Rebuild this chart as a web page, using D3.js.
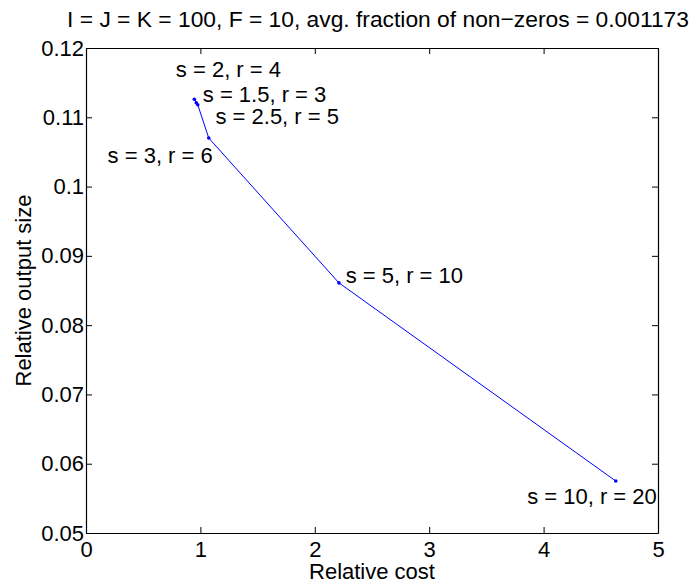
<!DOCTYPE html>
<html>
<head>
<meta charset="utf-8">
<script src="https://cdn.jsdelivr.net/npm/d3@7"></script>
<style>
  body { margin: 0; background: #fff; }
  text { font-family: "Liberation Sans", Arial, Helvetica, sans-serif; }
</style>
</head>
<body>
<div id="chart"></div>
<script>
// values
const sValues = [1.5, 2, 2.5, 3, 5, 10];
const rValues = [3, 4, 5, 6, 10, 20];
const relCost = [0.964, 0.947, 0.977, 1.073, 2.211, 4.631];
const relSize = [0.1121, 0.1126, 0.1118, 0.1070, 0.0861, 0.0575];
const xTicks = [0, 1, 2, 3, 4, 5];
const yTicks = [0.05, 0.06, 0.07, 0.08, 0.09, 0.1, 0.11, 0.12];

const width = 698, height = 584;
const margin = {top: 48, right: 40, bottom: 51, left: 86};
const fontSize = 22, tickLen = 6;

const points = sValues.map((s, i) => ({
  s: s, r: rValues[i], x: relCost[i], y: relSize[i]
}));

// where each annotation sits relative to its point
const labelPlace = {
  1.5: {dx: 6.5, dy: -1, anchor: "start"},
  2: {dx: -18.5, dy: -22, anchor: "start"},
  2.5: {dx: 17.7, dy: 19, anchor: "start"},
  3: {dx: 4, dy: 25, anchor: "end"},
  5: {dx: 6.7, dy: 0, anchor: "start"},
  10: {dx: 41, dy: 23, anchor: "end"}
};

const x = d3.scaleLinear().domain([0, 5]).range([margin.left, width - margin.right]);
const y = d3.scaleLinear().domain([0.05, 0.12]).range([height - margin.bottom, margin.top]);

const svg = d3.select("#chart").append("svg")
  .attr("width", width)
  .attr("height", height);

// axes, ticks pointing inward on all four sides
svg.append("g")
  .attr("transform", `translate(0,${y.range()[0]})`)
  .call(d3.axisBottom(x).tickValues(xTicks).tickSizeInner(-tickLen).tickSizeOuter(0).tickPadding(8)
    .tickFormat(d => String(d)))
  .call(g => g.selectAll("text").attr("font-size", fontSize).attr("dy", "0.71em"));

svg.append("g")
  .attr("transform", `translate(0,${y.range()[1]})`)
  .call(d3.axisTop(x).tickValues(xTicks).tickSizeInner(-tickLen).tickSizeOuter(0).tickFormat(""));

svg.append("g")
  .attr("transform", `translate(${x.range()[0]},0)`)
  .call(d3.axisLeft(y).tickValues(yTicks).tickSizeInner(-tickLen).tickSizeOuter(0).tickPadding(2)
    .tickFormat(d => String(+d.toFixed(2))))
  .call(g => g.selectAll("text").attr("font-size", fontSize));

svg.append("g")
  .attr("transform", `translate(${x.range()[1]},0)`)
  .call(d3.axisRight(y).tickValues(yTicks).tickSizeInner(-tickLen).tickSizeOuter(0).tickFormat(""));

svg.selectAll(".domain").attr("stroke", "#000").attr("stroke-width", 1.2);
svg.selectAll(".tick line").attr("stroke", "#000");
svg.selectAll(".tick text").attr("fill", "#000").attr("font-family", "Liberation Sans, Arial, sans-serif");

// line + dots
const line = d3.line().x(d => x(d.x)).y(d => y(d.y));
svg.append("path")
  .datum(points)
  .attr("fill", "none")
  .attr("stroke", "#0000ff")
  .attr("stroke-width", 1)
  .attr("d", line);

svg.append("g")
  .selectAll("circle")
  .data(points)
  .join("circle")
  .attr("cx", d => x(d.x))
  .attr("cy", d => y(d.y))
  .attr("r", 1.8)
  .attr("fill", "#0000ff");

// annotations
svg.append("g")
  .attr("font-size", fontSize)
  .selectAll("text")
  .data(points)
  .join("text")
  .attr("x", d => x(d.x) + labelPlace[d.s].dx)
  .attr("y", d => y(d.y) + labelPlace[d.s].dy)
  .attr("text-anchor", d => labelPlace[d.s].anchor)
  .text(d => `s = ${d.s}, r = ${d.r}`);

// title and axis labels
svg.append("text")
  .attr("x", (x.range()[0] + x.range()[1]) / 2 + 6)
  .attr("y", 27)
  .attr("text-anchor", "middle")
  .attr("font-size", 22.8)
  .text("I = J = K = 100, F = 10, avg. fraction of non\u2212zeros = 0.001173");

svg.append("text")
  .attr("x", (x.range()[0] + x.range()[1]) / 2)
  .attr("y", 579)
  .attr("text-anchor", "middle")
  .attr("font-size", fontSize)
  .text("Relative cost");

svg.append("text")
  .attr("transform", `translate(31,${(y.range()[0] + y.range()[1]) / 2}) rotate(-90)`)
  .attr("text-anchor", "middle")
  .attr("font-size", fontSize)
  .text("Relative output size");
</script>
</body>
</html>
